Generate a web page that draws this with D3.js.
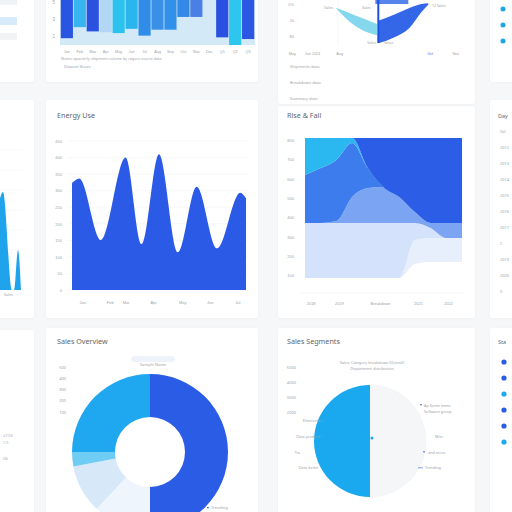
<!DOCTYPE html>
<html>
<head>
<meta charset="utf-8">
<script src="https://cdn.jsdelivr.net/npm/d3@7"></script>
<style>
  html, body { margin: 0; padding: 0; background: #f6f7f9; }
  svg { display: block; font-family: 'Noto Sans', sans-serif; }
</style>
</head>
<body>
<div id="chart"></div>
<script>
// ---- data ----

// top-left: hanging bars
const barLabels = ['Jan', 'Feb', 'Mar', 'Apr', 'May', 'Jun', 'Jul', 'Aug', 'Sep', 'Oct', 'Nov', 'Dec', 'Q1', 'Q2', 'Q3'];
const barValues = [0.8, 2.1, 1.6, 1.5, 1.4, 1.9, 1.1, 1.8, 1.8, 3.3, 3.3, 0, 0.9, 0, 0.7];
const barTicks = [1, 3, 5];

// top-middle: crescent shapes
const cyanX = [2.7, 3.7, 4.6, 5.7];
const cyanLow = [49, 32.5, 22.5, 16];
const cyanHigh = [50, 43.5, 37.5, 30];
const blueX = [5.8, 7.0, 8.1, 9.0, 9.5];
const blueLow = [6, 13.5, 25, 45, 54];
const blueHigh = [34, 42, 50, 55, 56];
const markerX = 5.8;
const crescentTicks = [15, 35, 55];
const crescentTickLabels = ['80', '1k', '5%'];
const crescentXTicks = [-0.6, 0.9, 2.9, 9.6, 11.5];
const crescentXLabels = ['May', 'Jun 2021', 'Aug', 'Oct', 'Nov'];

// middle: energy area
const usageX = [0, 0.5, 2, 3.7, 4.8, 6, 7.3, 8.6, 10, 11.6, 12];
const usageY = [323, 337, 151, 400, 139, 410, 114, 312, 126, 294, 277];
const usageTicks = [0, 50, 100, 150, 200, 250, 300, 350, 400, 450];
const usageXTicks = [0.7, 2.6, 3.7, 5.6, 7.6, 9.5, 11.4];
const usageXLabels = ['Jan', 'Feb', 'Mar', 'Apr', 'May', 'Jun', 'Jul'];

// middle: stacked rise & fall
const stackX = [0, 1, 2, 3, 4, 5, 6, 7, 8, 9, 10];
const stackBase = [88, 88, 88, 88, 88, 88, 88, 160, 170, 170, 170];
const stackPale = [0, 0, 0, 0, 0, 0, 0, 124, 124, 124, 124];
const stackLight = [284, 284, 284, 284, 284, 284, 284, 88, 52, 0, 0];
const stackMidLight = [0, 0, 10, 134, 180, 185, 134, 56, 26, 78, 78];
const stackMid = [247, 283, 315, 279, 103, 0, 0, 0, 0, 0, 0];
const stackCyan = [191, 155, 113, 25, 0, 0, 0, 0, 0, 0, 0];
const stackDark = [0, 0, 0, 0, 155, 253, 304, 382, 438, 438, 438];
const stackTicks = [100, 200, 300, 400, 500, 600, 700, 800];
const stackXTicks = [0.36, 2.17, 4.78, 7.2, 9.11];
const stackXLabels = ['2018', '2019', 'Breakdown', '2021', '2022'];

// left: small spikes
const spikeX = [-4, 3, 12, 14, 18, 21];
const spikeY = [70, 98, 0, 0, 40, 0];

// bottom: donut and half pie
const donutValues = [50, 12, 10, 3, 25];
const donutTicks = ['500', '400', '300', '200', '100'];
const pieValues = [50, 50];
const pieTicks = ['5000', '4000', '3000', '2000'];
const dayLabels = ['Val', '2012', '2013', '2014', '2015', '2016', '2017', 'C', '2019', '2020', '0'];
const statusDots = [0, 1, 2, 3, 4, 5];

// ---- drawing ----
const W = 512, H = 512;
const svg = d3.select('#chart').append('svg').attr('width', W).attr('height', H);

const tickColor = '#9ea3a8';
const titleColor = '#62666b';
const small = (g, x, y, txt, anchor = 'start', size = 4.5, fill = tickColor) =>
    g.append('text').attr('x', x).attr('y', y).attr('text-anchor', anchor)
        .attr('font-size', size).attr('fill', fill).text(txt);

const defs = svg.append('defs');
const shadow = defs.append('filter').attr('id', 'shadow').attr('x', '-10%').attr('y', '-10%').attr('width', '120%').attr('height', '120%');
shadow.append('feDropShadow').attr('dx', 0).attr('dy', 0.5).attr('stdDeviation', 1.2).attr('flood-color', '#000').attr('flood-opacity', 0.04);

const cards = [
    [-20, -20, 54, 102], [46, -20, 212, 102], [278, -20, 197, 124], [490, -20, 40, 102],
    [-20, 100, 54, 218], [46, 100, 212, 218], [278, 106, 197, 212], [490, 100, 40, 218],
    [-20, 330, 54, 200], [46, 328, 212, 200], [278, 328, 197, 200], [490, 328, 40, 200]
];
svg.selectAll('rect.card').data(cards).enter().append('rect')
    .attr('class', 'card')
    .attr('x', d => d[0]).attr('y', d => d[1]).attr('width', d => d[2]).attr('height', d => d[3])
    .attr('rx', 3).attr('fill', '#ffffff').attr('filter', 'url(#shadow)');

// top-left partial card
const a1 = svg.append('g');
a1.append('rect').attr('x', 0).attr('y', -4).attr('width', 17).attr('height', 9).attr('fill', '#eef3f8');
a1.append('rect').attr('x', 0).attr('y', 17).attr('width', 17).attr('height', 8).attr('fill', '#d8ebfa');
a1.append('rect').attr('x', 0).attr('y', 33).attr('width', 17).attr('height', 7).attr('fill', '#f1f3f5');

// hanging bars
{
    const g = svg.append('g');
    const barColors = ['#2a55e0', '#38b4ef', '#2a52de', '#b2d7f4', '#2cc2ee', '#2bb5ef', '#2f8de9', '#3a8fe7',
        '#3090ea', '#3388e8', '#4a7fe6', '#d4e9f8', '#2950e0', '#2cc6ee', '#2b57e2'];
    const x = d3.scaleBand().domain(barLabels).range([60, 255]).padding(0.06);
    const y = d3.scaleLinear().domain([0, 9]).range([45, -31.5]);
    g.append('rect').attr('x', 60).attr('y', y(9)).attr('width', 195).attr('height', y(0) - y(9)).attr('fill', '#d4e9f8');
    g.selectAll('rect.bar').data(barValues).enter().append('rect')
        .attr('x', (d, i) => x(barLabels[i]))
        .attr('y', y(9))
        .attr('width', x.bandwidth())
        .attr('height', d => y(d) - y(9))
        .attr('fill', (d, i) => barColors[i]);
    const ya = g.append('g').attr('transform', 'translate(58,0)')
        .call(d3.axisLeft(y).tickValues(barTicks).tickSize(0).tickFormat(d3.format('d')));
    ya.select('.domain').remove();
    ya.selectAll('text').attr('font-size', 4.5).attr('fill', tickColor);
    const xa = g.append('g').attr('transform', 'translate(0,47)')
        .call(d3.axisBottom(x).tickSize(0));
    xa.select('.domain').remove();
    xa.selectAll('text').attr('font-size', 3.8).attr('fill', tickColor);
    small(g, 61, 60, 'Notes: quarterly shipment volume by region source data', 'start', 3.8);
    small(g, 64, 67.5, 'Dataset Notes', 'start', 4);
}

// crescent chart
{
    const g = svg.append('g');
    const x = d3.scaleLinear().domain([0, 12]).range([300, 462]);
    const y = d3.scaleLinear().domain([0, 60]).range([48, 0]);
    const area = d3.area().x(d => x(d[0])).y0(d => y(d[1])).y1(d => y(d[2])).curve(d3.curveMonotoneX);
    g.append('line').attr('x1', 338).attr('x2', 338).attr('y1', 0).attr('y2', 46).attr('stroke', '#f0f1f3').attr('stroke-width', 0.6);
    g.append('path').datum(cyanX.map((v, i) => [v, cyanLow[i], cyanHigh[i]]))
        .attr('d', area).attr('fill', '#6fd0ea').attr('opacity', 0.85);
    g.append('path').datum(blueX.map((v, i) => [v, blueLow[i], blueHigh[i]]))
        .attr('d', area).attr('fill', '#3467e8');
    g.append('rect').attr('x', x(markerX) - 3).attr('y', -6).attr('width', 33).attr('height', 10)
        .attr('fill', '#3a6ee6').attr('opacity', 0.85);
    g.append('line').attr('x1', x(markerX)).attr('x2', x(markerX)).attr('y1', y(0) - 5).attr('y2', 0)
        .attr('stroke', '#1f4fe0').attr('stroke-width', 2);
    const ya = g.append('g').attr('transform', 'translate(297,0)')
        .call(d3.axisLeft(y).tickValues(crescentTicks).tickSize(0).tickFormat((d, i) => crescentTickLabels[i]));
    ya.select('.domain').remove();
    ya.selectAll('text').attr('font-size', 4).attr('fill', tickColor);
    const xa = g.append('g').attr('transform', 'translate(0,49)')
        .call(d3.axisBottom(x).tickValues(crescentXTicks).tickSize(0).tickFormat((d, i) => crescentXLabels[i]));
    xa.select('.domain').remove();
    xa.selectAll('text').attr('font-size', 3.8).attr('fill', (d, i) => i === 3 ? '#3467e8' : tickColor);
    small(g, 335, 9, 'Sales -', 'end', 3.6);
    small(g, 362, 9, 'Sales', 'start', 3.6);
    small(g, 376, 44, 'Sales', 'end', 3.6);
    small(g, 384, 44, 'Value', 'start', 3.6);
    small(g, 432, 7, '12 Sales', 'start', 3.6);
    small(g, 290, 68, 'Shipments data', 'start', 4);
    small(g, 290, 84, 'Breakdown data', 'start', 4);
    small(g, 290, 100, 'Summary data', 'start', 4);
}

// right column top dots
svg.selectAll('circle.d1').data([9, 25, 41]).enter().append('circle')
    .attr('cx', 503).attr('cy', d => d).attr('r', 2.5).attr('fill', '#1ca6e3');

// left spikes
{
    const g = svg.append('g');
    const x = d3.scaleLinear().domain([0, 20]).range([0, 20]);
    const y = d3.scaleLinear().domain([0, 100]).range([290, 190]);
    [150, 170, 190, 210, 230, 250, 270].forEach(v =>
        g.append('line').attr('x1', 0).attr('x2', 22).attr('y1', v).attr('y2', v).attr('stroke', '#f2f3f5').attr('stroke-width', 0.5));
    g.append('path').datum(spikeX.map((v, i) => [v, spikeY[i]]))
        .attr('d', d3.area().x(d => x(d[0])).y0(y(0)).y1(d => y(d[1])).curve(d3.curveMonotoneX))
        .attr('fill', '#1fa3ea');
    small(g, 4, 296, 'Sales', 'start', 3.6);
    small(g, 3, 437, '±7.50', 'start', 3.8);
    small(g, 3, 444, '1.5', 'start', 3.8);
    small(g, 3, 460, 'Ok', 'start', 3.8);
}

// energy area
{
    const g = svg.append('g');
    small(g, 57, 118, 'Energy Use', 'start', 7.2, titleColor);
    const x = d3.scaleLinear().domain([0, 12]).range([72, 246]);
    const y = d3.scaleLinear().domain([0, 450]).range([290, 141]);
    g.selectAll('line.grid').data(usageTicks).enter().append('line')
        .attr('x1', 68).attr('x2', 248).attr('y1', d => y(d)).attr('y2', d => y(d))
        .attr('stroke', '#f1f2f4').attr('stroke-width', 0.6);
    g.append('path').datum(usageX.map((v, i) => [v, usageY[i]]))
        .attr('d', d3.area().x(d => x(d[0])).y0(y(0)).y1(d => y(d[1])).curve(d3.curveMonotoneX))
        .attr('fill', '#2b5be6');
    const ya = g.append('g').attr('transform', 'translate(65,0)')
        .call(d3.axisLeft(y).tickValues(usageTicks).tickSize(0));
    ya.select('.domain').remove();
    ya.selectAll('text').attr('font-size', 4).attr('fill', tickColor);
    const xa = g.append('g').attr('transform', 'translate(0,298)')
        .call(d3.axisBottom(x).tickValues(usageXTicks).tickSize(0).tickFormat((d, i) => usageXLabels[i]));
    xa.select('.domain').remove();
    xa.selectAll('text').attr('font-size', 4).attr('fill', tickColor);
}

// stacked rise & fall
{
    const g = svg.append('g');
    small(g, 287, 118, 'Rise & Fall', 'start', 7.2, titleColor);
    const keys = ['base', 'pale', 'light', 'midLight', 'mid', 'cyan', 'dark'];
    const cols = [stackBase, stackPale, stackLight, stackMidLight, stackMid, stackCyan, stackDark];
    const fills = { base: 'none', pale: '#e7eefc', light: '#d4e2fb', midLight: '#7ba5f3', mid: '#3c7ced', cyan: '#2bb7ef', dark: '#2c5de6' };
    const rows = stackX.map((v, i) => {
        const r = { x: v };
        keys.forEach((k, j) => { r[k] = cols[j][i]; });
        return r;
    });
    const series = d3.stack().keys(keys)(rows);
    const x = d3.scaleLinear().domain([0, 10]).range([305, 462]);
    const y = d3.scaleLinear().domain([0, 800]).range([295, 140]);
    const area = d3.area().x(d => x(d.data.x)).y0(d => y(d[0])).y1(d => y(d[1])).curve(d3.curveMonotoneX);
    g.selectAll('path.layer').data(series).enter().append('path')
        .attr('d', area).attr('fill', d => fills[d.key]);
    g.append('line').attr('x1', 300).attr('x2', 463).attr('y1', 293).attr('y2', 293).attr('stroke', '#eceef1').attr('stroke-width', 0.6);
    const ya = g.append('g').attr('transform', 'translate(297,0)')
        .call(d3.axisLeft(y).tickValues(stackTicks).tickSize(0));
    ya.select('.domain').remove();
    ya.selectAll('text').attr('font-size', 4).attr('fill', tickColor);
    const xa = g.append('g').attr('transform', 'translate(0,299)')
        .call(d3.axisBottom(x).tickValues(stackXTicks).tickSize(0).tickFormat((d, i) => stackXLabels[i]));
    xa.select('.domain').remove();
    xa.selectAll('text').attr('font-size', 4).attr('fill', tickColor);
}

// right column middle
{
    const g = svg.append('g');
    small(g, 498, 118, 'Day', 'start', 5.5, titleColor);
    const y = d3.scalePoint().domain(dayLabels).range([131, 291]);
    dayLabels.forEach(d => small(g, 500, y(d) + 1.5, d, 'start', 4));
}

// donut
{
    const g = svg.append('g');
    small(g, 57, 344, 'Sales Overview', 'start', 7.2, titleColor);
    g.append('rect').attr('x', 131).attr('y', 356).attr('width', 44).attr('height', 6).attr('rx', 3).attr('fill', '#eef3fb');
    small(g, 153, 366, 'Sample Name', 'middle', 4);
    const y = d3.scalePoint().domain(donutTicks).range([367, 412]);
    donutTicks.forEach(d => small(g, 66, y(d) + 1.5, d, 'end', 4));
    const pie = d3.pie().sort(null)(donutValues);
    const donutColors = ['#2a5ce6', '#eef5fd', '#d7e8f9', '#6fcdf3', '#1fa8ef'];
    const arc = d3.arc().innerRadius(35).outerRadius(78);
    g.append('g').attr('transform', 'translate(150,452)')
        .selectAll('path').data(pie).enter().append('path')
        .attr('d', arc).attr('fill', (d, i) => donutColors[i]);
    g.append('text').attr('x', 206).attr('y', 509).attr('font-size', 3.6).attr('fill', '#2a5ce6').text('▼');
    small(g, 211, 509, 'Trending', 'start', 4);
}

// half pie
{
    const g = svg.append('g');
    small(g, 287, 344, 'Sales Segments', 'start', 7.2, titleColor);
    small(g, 372, 364, 'Sales: Category breakdown (Overall)', 'middle', 3.8);
    small(g, 372, 370, 'Department distribution', 'middle', 3.8);
    const y = d3.scalePoint().domain(pieTicks).range([367, 412]);
    pieTicks.forEach(d => small(g, 296, y(d) + 1.5, d, 'end', 4));
    const pie = d3.pie().sort(null)(pieValues);
    const arc = d3.arc().innerRadius(0).outerRadius(56);
    const pg = g.append('g').attr('transform', 'translate(370,441)');
    pg.selectAll('path').data(pie).enter().append('path')
        .attr('d', arc).attr('fill', (d, i) => i === 0 ? '#f5f6f8' : '#1aa9ef')
        .attr('stroke', (d, i) => i === 0 ? '#eceef1' : 'none').attr('stroke-width', 0.5);
    pg.append('circle').attr('cx', 2).attr('cy', -3).attr('r', 1.5).attr('fill', '#1aa9ef');
    small(g, 322, 422, 'Electronics', 'end', 3.8);
    small(g, 322, 438, 'Data product ▪', 'end', 3.8);
    small(g, 300, 454, 'Tra', 'end', 3.8);
    small(g, 318, 469, 'Data items', 'end', 3.8);
    small(g, 424, 407, 'Ap Some items', 'start', 3.8);
    small(g, 424, 413, 'Software group', 'start', 3.8);
    small(g, 435, 438, 'Misc', 'start', 3.8);
    small(g, 428, 454, 'and more', 'start', 3.8);
    small(g, 425, 469, 'Trending', 'start', 3.8);
    [[421, 406], [424, 453]].forEach(p => g.append('circle').attr('cx', p[0]).attr('cy', p[1] - 1.2).attr('r', 0.8).attr('fill', '#2a5ce6'));
    g.append('line').attr('x1', 418).attr('x2', 423).attr('y1', 467.8).attr('y2', 467.8).attr('stroke', '#2a5ce6').attr('stroke-width', 0.6);
}

// right column bottom
{
    const g = svg.append('g');
    small(g, 498, 344, 'Sta', 'start', 5.5, titleColor);
    const dotColors = ['#2a5ce6', '#2a5ce6', '#1fa8ef', '#2a5ce6', '#2a5ce6', '#1fa8ef'];
    const y = d3.scalePoint().domain(statusDots).range([362, 442]);
    g.selectAll('circle').data(statusDots).enter().append('circle')
        .attr('cx', 504).attr('cy', d => y(d)).attr('r', 2.6).attr('fill', (d, i) => dotColors[i]);
}
</script>
</body>
</html>
